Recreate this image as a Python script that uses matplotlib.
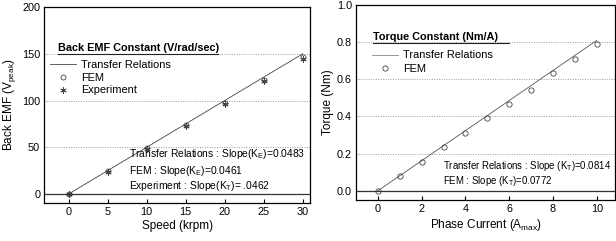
import matplotlib
matplotlib.use('Agg')
import matplotlib.pyplot as plt
from matplotlib.lines import Line2D

plt.rcParams['font.family'] = ['Liberation Sans', 'DejaVu Sans']
plt.rcParams['mathtext.fontset'] = 'custom'
plt.rcParams['mathtext.rm'] = 'Liberation Sans'
plt.rcParams['mathtext.it'] = 'Liberation Sans:italic'

# back EMF vs speed
speed = [0, 5, 10, 15, 20, 25, 30]
emf_fem = [0, 24.5, 49, 73.5, 97, 121.5, 147]
emf_exp = [0, 24, 48, 72.5, 96.5, 120.5, 144]
emf_line_x = [0, 30]
emf_line_y = [0, 150]

# torque vs current
current = [0, 1, 2, 3, 4, 5, 6, 7, 8, 9, 10]
torque_fem = [0, 0.080, 0.155, 0.236, 0.311, 0.393, 0.468, 0.543, 0.632, 0.709, 0.789]
torque_line_x = [0, 10]
torque_line_y = [0, 0.81]

fig = plt.figure(figsize=(6.16, 2.41), dpi=100)
ax1 = fig.add_axes([0.072, 0.158, 0.431, 0.813])
ax2 = fig.add_axes([0.578, 0.170, 0.421, 0.809])


def style_axes(ax):
    for s in ax.spines.values():
        s.set_linewidth(0.9)
    ax.tick_params(direction='in', length=3, width=0.8, labelsize=7.8, pad=3)
    ax.tick_params(axis='y', length=0)


# ---- left panel ----
ax1.plot(emf_line_x, emf_line_y, color='#444444', linewidth=0.6, label='Transfer Relations')
ax1.plot(speed, emf_fem, linestyle='none', marker='o', markersize=3.6, markerfacecolor='none',
         markeredgecolor='#444444', markeredgewidth=0.6, label='FEM')
ax1.plot(speed, emf_exp, linestyle='none', marker=(6, 2, 0), markersize=4.5, color='#444444',
         markeredgewidth=0.6, label='Experiment')
ax1.axhline(0, color='#333333', linewidth=0.9)
for g in [50, 100, 150]:
    ax1.axhline(g, color='#999999', linewidth=0.7, linestyle=(0, (1, 1.5)), zorder=0)
ax1.set_xlim(-3.1, 30.9)
ax1.set_ylim(-9.5, 200)
ax1.set_xticks([0, 5, 10, 15, 20, 25, 30])
ax1.set_yticks([0, 50, 100, 150, 200])
ax1.set_xlabel('Speed (krpm)', fontsize=8.5, labelpad=2)
ax1.set_ylabel('Back EMF (V$_{\\mathrm{peak}}$)', fontsize=8.5, labelpad=3)
style_axes(ax1)

leg1 = ax1.legend(loc='upper left', bbox_to_anchor=(0.005, 0.752), frameon=False, fontsize=7.9,
                  handlelength=2.4, handletextpad=0.4, labelspacing=0.25, borderaxespad=0)
ax1.text(0.05, 0.765, 'Back EMF Constant (V/rad/sec)', transform=ax1.transAxes,
         fontsize=7.8, fontweight='bold', va='bottom')
ax1.add_line(Line2D([0.05, 0.655], [0.76, 0.76], transform=ax1.transAxes, color='#222222', linewidth=0.8))

ax1.text(0.32, 0.25, 'Transfer Relations : Slope(K$_{\\mathrm{E}}$)=0.0483', transform=ax1.transAxes,
         fontsize=7.4, va='center')
ax1.text(0.32, 0.163, 'FEM : Slope(K$_{\\mathrm{E}}$)=0.0461', transform=ax1.transAxes,
         fontsize=7.4, va='center')
ax1.text(0.32, 0.085, 'Experiment : Slope(K$_{\\mathrm{T}}$)= .0462', transform=ax1.transAxes,
         fontsize=7.4, va='center')

# ---- right panel ----
ax2.plot(torque_line_x, torque_line_y, color='#555555', linewidth=0.6, label='Transfer Relations')
ax2.plot(current, torque_fem, linestyle='none', marker='o', markersize=3.8, markerfacecolor='none',
         markeredgecolor='#444444', markeredgewidth=0.6, label='FEM')
ax2.axhline(0, color='#333333', linewidth=0.9)
for g in [0.2, 0.4, 0.6, 0.8]:
    ax2.axhline(g, color='#999999', linewidth=0.7, linestyle=(0, (1, 1.5)), zorder=0)
ax2.set_xlim(-1.0, 10.85)
ax2.set_ylim(-0.05, 1.0)
ax2.set_xticks([0, 2, 4, 6, 8, 10])
ax2.set_yticks([0.0, 0.2, 0.4, 0.6, 0.8, 1.0])
ax2.set_xlabel('Phase Current (A$_{\\mathrm{max}}$)', fontsize=8.5, labelpad=2)
ax2.set_ylabel('Torque (Nm)', fontsize=8.5, labelpad=2)
style_axes(ax2)

leg2 = ax2.legend(loc='upper left', bbox_to_anchor=(0.045, 0.79), frameon=False, fontsize=7.9,
                  handlelength=2.4, handletextpad=0.4, labelspacing=0.3, borderaxespad=0)
for h in leg2.legend_handles:
    h.set_color('#888888')
ax2.text(0.065, 0.81, 'Torque Constant (Nm/A)', transform=ax2.transAxes,
         fontsize=7.8, fontweight='bold', va='bottom')
ax2.add_line(Line2D([0.065, 0.59], [0.805, 0.805], transform=ax2.transAxes, color='#222222', linewidth=0.8))

ax2.text(0.335, 0.174, 'Transfer Relations : Slope (K$_{\\mathrm{T}}$)=0.0814', transform=ax2.transAxes,
         fontsize=6.9, va='center')
ax2.text(0.335, 0.10, 'FEM : Slope (K$_{\\mathrm{T}}$)=0.0772', transform=ax2.transAxes,
         fontsize=6.9, va='center')

fig.savefig('out.png', dpi=100)
